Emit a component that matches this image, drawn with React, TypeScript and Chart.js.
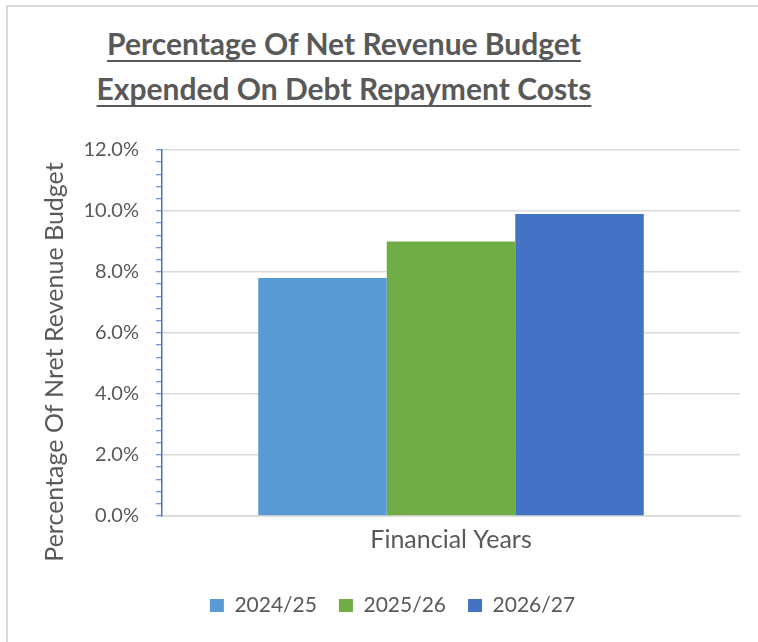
import React, { useEffect, useRef } from 'react';
import { Chart, registerables } from 'chart.js';

Chart.register(...registerables);

// ---- data ----
const categories = ['Financial Years'];
const seriesNames = ['2024/25', '2025/26', '2026/27'];
const seriesValues = [7.8, 9.0, 9.9];
const seriesColors = ['#5B9BD5', '#70AD47', '#4472C4'];
const titleLines = ['Percentage Of Net Revenue Budget', 'Expended On Debt Repayment Costs'];
const yAxisTitle = 'Percentage Of Nret Revenue Budget';
const yMin = 0;
const yMax = 12;
const yMajorStep = 2;
const yMinorStep = 0.4;

const TEXT = '#595959';
const GRID = '#d9d9d9';
const AXIS_BLUE = '#4472C4';
const FONT = 'Lato';

const isMajor = (v: number) => Math.abs(v / yMajorStep - Math.round(v / yMajorStep)) < 1e-6;

const yTitlePlugin = {
  id: 'yTitleRotated',
  afterDraw(chart: any) {
    const { ctx, chartArea } = chart;
    ctx.save();
    ctx.font = `25px ${FONT}`;
    ctx.fillStyle = TEXT;
    ctx.translate(63, (chartArea.top + chartArea.bottom) / 2 + 29);
    ctx.rotate(-Math.PI / 2);
    ctx.textAlign = 'center';
    ctx.textBaseline = 'alphabetic';
    ctx.fillText(yAxisTitle, 0, 0);
    ctx.restore();
  },
};

export default function App() {
  const ref = useRef<HTMLCanvasElement | null>(null);

  useEffect(() => {
    document.body.style.margin = '0';
    if (!ref.current) return;
    Chart.defaults.font.family = FONT;
    const chart = new Chart(ref.current, {
      type: 'bar',
      data: {
        labels: categories,
        datasets: seriesNames.map((name, i) => ({
          label: name,
          data: [seriesValues[i]],
          backgroundColor: seriesColors[i],
          borderWidth: 0,
          categoryPercentage: 0.667,
          barPercentage: 1,
        })),
      },
      options: {
        responsive: false,
        animation: false,
        layout: { padding: { left: 45, right: 18, top: 150, bottom: 16 } },
        plugins: {
          title: { display: false },
          tooltip: { enabled: false },
          legend: {
            position: 'bottom',
            labels: {
              boxWidth: 14,
              boxHeight: 13,
              padding: 22,
              color: TEXT,
              font: { size: 21, family: FONT },
            },
          },
        },
        scales: {
          x: {
            grid: { display: false },
            border: { color: GRID, width: 1.5 },
            ticks: { color: TEXT, font: { size: 25, family: FONT }, padding: 1 },
            afterFit: (s: any) => {
              s.height = 57;
            },
          },
          y: {
            min: yMin,
            max: yMax,
            ticks: {
              stepSize: yMinorStep,
              autoSkip: false,
              padding: 17,
              color: TEXT,
              font: { size: 20, family: FONT },
              callback: (v: any) => (isMajor(Number(v)) ? Number(v).toFixed(1) + '%' : ''),
            },
            grid: {
              color: (c: any) => (c.tick && isMajor(c.tick.value) ? GRID : 'rgba(0,0,0,0)'),
              lineWidth: 1.5,
              tickColor: AXIS_BLUE,
              tickLength: 6,
              tickWidth: 1,
            },
            border: { color: AXIS_BLUE, width: 1.5 },
            afterFit: (s: any) => {
              s.width = 117;
            },
          },
        },
      },
      plugins: [yTitlePlugin],
    } as any);
    return () => chart.destroy();
  }, []);

  return (
    <div style={{ position: 'relative', width: 758, height: 642, background: '#fff', overflow: 'hidden' }}>
      <div
        style={{
          position: 'absolute',
          left: 6,
          top: 5,
          width: 800,
          height: 700,
          borderTop: `2px solid ${GRID}`,
          borderLeft: `2px solid ${GRID}`,
        }}
      />
      <div
        style={{
          position: 'absolute',
          left: 0,
          top: 21,
          width: 688,
          textAlign: 'center',
          fontFamily: FONT,
          fontWeight: 700,
          fontSize: 30,
          lineHeight: '45px',
          color: TEXT,
          textDecoration: 'underline',
          textDecorationThickness: '2px',
          textUnderlineOffset: '5px',
        }}
      >
        {titleLines.map((l) => (
          <div key={l}>{l}</div>
        ))}
      </div>
      <canvas ref={ref} width={758} height={642} style={{ position: 'absolute', left: 0, top: 0 }} />
    </div>
  );
}
